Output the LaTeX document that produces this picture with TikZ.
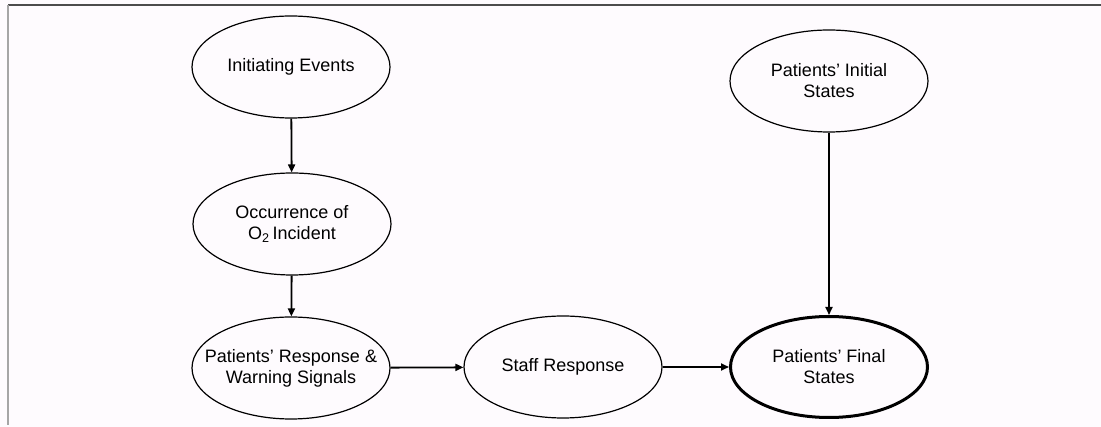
\documentclass[tikz,border=0pt]{standalone}
\usepackage{fontspec}
\setmainfont{Liberation Sans}
\usetikzlibrary{shapes.geometric,arrows.meta}
\definecolor{paper}{RGB}{254,251,254}
\begin{document}
\begin{tikzpicture}[x=1pt,y=-1pt,
  state/.style={ellipse,draw,line width=1.2pt,minimum width=198pt,minimum height=102pt,
    inner xsep=-30pt,inner ysep=0pt,align=center,font=\fontsize{18}{21}\selectfont},
  final/.style={state,line width=3pt,minimum width=197pt,minimum height=101pt},
  link/.style={line width=1.8pt,-{Triangle[length=8pt,width=7pt]}}]
  % canvas and frame
  \fill[paper] (0,0) rectangle (1101,427);
  \useasboundingbox (0,0) rectangle (1101,427);
  \draw[line width=1.6pt,black!70] (8,5) -- (1101,5);
  \draw[line width=1.4pt,black!35] (8,5) -- (8,425);
  % states
  \node[state] (init)  at (291,67)  {Initiating Events};
  \node[state] (occ)   at (292,224) {Occurrence of\\O\textsubscript{2}\,Incident};
  \node[state] (resp)  at (291,368) {Patients’ Response \&\\Warning Signals};
  \node[state] (staff) at (563,367) {Staff Response};
  \node[final] (fin)   at (829,367) {Patients’ Final\\States};
  \node[state] (pinit) at (829,81)  {Patients’ Initial\\States};
  % influences
  \draw[link] (init) -- (occ);
  \draw[link] (occ) -- (resp);
  \draw[link] (resp) -- (staff);
  \draw[link] (staff) -- (fin);
  \draw[link] (pinit) -- (fin);
\end{tikzpicture}
\end{document}
